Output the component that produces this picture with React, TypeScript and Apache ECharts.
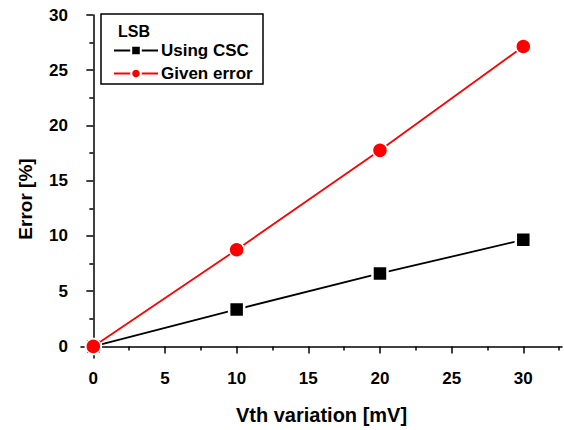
import React, { useEffect, useRef } from "react";
import * as echarts from "echarts";

const xValues = [0, 10, 20, 30];
const usingCSC = [0, 3.35, 6.6, 9.65];
const givenError = [0, 8.75, 17.75, 27.15];
const majorTicks = [0, 5, 10, 15, 20, 25, 30];
const xMinorTicks = [2.5, 7.5, 12.5, 17.5, 22.5, 27.5, 32.5];
const yMinorTicks = [2.5, 7.5, 12.5, 17.5, 22.5, 27.5];
const legendTitle = "LSB";
const seriesNames = ["Using CSC", "Given error"];
const xName = "Vth variation [mV]";
const yName = "Error [%]";

const FONT = "Arial, 'Liberation Sans', sans-serif";

export default function App() {
  const ref = useRef<HTMLDivElement>(null);
  useEffect(() => {
    if (!ref.current) return;
    const chart = echarts.init(ref.current, null, { renderer: "svg" });
    const grid = { left: 81, top: 15, right: 2, bottom: 70 };
    const xMin = -0.86, xMax = 32.7, yMin = -1.05, yMax = 30;
    const axisLine = { show: true, lineStyle: { color: "#000", width: 1.5 } };
    chart.setOption({
      animation: false,
      backgroundColor: "#fff",
      grid,
      xAxis: [
        {
          type: "value",
          min: xMin,
          max: xMax,
          axisLine,
          splitLine: { show: false },
          axisTick: { show: true, length: 7, customValues: majorTicks, lineStyle: { color: "#000", width: 1.5 } },
          axisLabel: {
            customValues: majorTicks,
            margin: 12,
            color: "#000",
            fontFamily: FONT,
            fontWeight: "bold",
            fontSize: 17,
          },
          name: xName,
          nameLocation: "middle",
          nameGap: 47,
          nameTextStyle: { color: "#000", fontFamily: FONT, fontWeight: "bold", fontSize: 20 },
        },
        {
          type: "value",
          position: "bottom",
          min: xMin,
          max: xMax,
          axisLine: { show: false },
          splitLine: { show: false },
          axisTick: { show: true, length: 4, customValues: xMinorTicks, lineStyle: { color: "#000", width: 1.5 } },
          axisLabel: { show: false },
        },
      ],
      yAxis: [
        {
          type: "value",
          min: yMin,
          max: yMax,
          axisLine,
          splitLine: { show: false },
          axisTick: { show: true, length: 7, customValues: majorTicks, lineStyle: { color: "#000", width: 1.5 } },
          axisLabel: {
            customValues: majorTicks,
            margin: 13,
            color: "#000",
            fontFamily: FONT,
            fontWeight: "bold",
            fontSize: 17,
          },
        },
        {
          type: "value",
          position: "left",
          min: yMin,
          max: yMax,
          axisLine: { show: false },
          splitLine: { show: false },
          axisTick: { show: true, length: 4, customValues: yMinorTicks, lineStyle: { color: "#000", width: 1.5 } },
          axisLabel: { show: false },
        },
      ],
      legend: {
        orient: "vertical",
        left: 113,
        top: 42,
        itemWidth: 44,
        itemHeight: 12,
        itemGap: 6,
        padding: 0,
        textStyle: { color: "#000", fontFamily: FONT, fontWeight: "bold", fontSize: 17, padding: [0, 0, 0, -2] },
        data: seriesNames,
      },
      graphic: [
        {
          type: "rect",
          shape: { x: 101, y: 14, width: 162, height: 70 },
          style: { fill: "none", stroke: "#000", lineWidth: 1.5 },
          z: 10,
        },
        {
          type: "text",
          x: 118,
          y: 23,
          style: { text: legendTitle, fill: "#000", font: `bold 16px ${FONT}` },
          z: 10,
        },
        {
          type: "text",
          x: 25,
          y: 199,
          rotation: Math.PI / 2,
          style: {
            text: yName,
            fill: "#000",
            font: `bold 19px ${FONT}`,
            align: "center",
            verticalAlign: "middle",
          },
        },
      ],
      series: [
        {
          name: seriesNames[0],
          type: "line",
          data: xValues.map((x, i) => [x, usingCSC[i]]),
          symbol: "rect",
          symbolSize: 15,
          lineStyle: { color: "#000", width: 1.8 },
          itemStyle: { color: "#000", borderColor: "#fff", borderWidth: 2.5 },
          z: 2,
        },
        {
          name: seriesNames[1],
          type: "line",
          data: xValues.map((x, i) => [x, givenError[i]]),
          symbol: "circle",
          symbolSize: 15,
          lineStyle: { color: "#f00", width: 1.8 },
          itemStyle: { color: "#f00", borderColor: "#fff", borderWidth: 1.5 },
          z: 3,
        },
      ],
    });
    return () => chart.dispose();
  }, []);
  return <div ref={ref} style={{ width: 564, height: 430, position: "absolute", left: 0, top: 0 }} />;
}
